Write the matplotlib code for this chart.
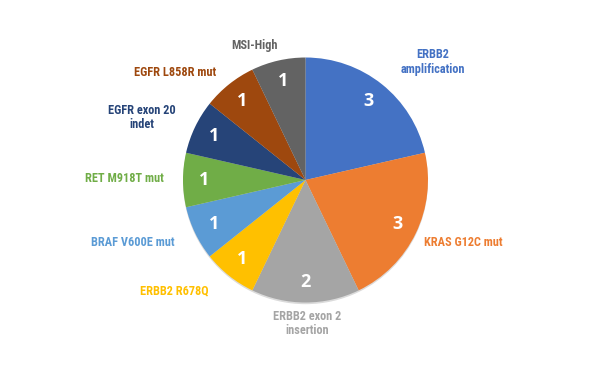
import matplotlib
matplotlib.use("Agg")
import matplotlib.pyplot as plt
from matplotlib import font_manager
from matplotlib.font_manager import FontProperties
import os

categories = ["ERBB2\namplification", "KRAS G12C mut", "ERBB2 exon 2\ninsertion",
              "ERBB2 R678Q", "BRAF V600E mut", "RET M918T mut",
              "EGFR exon 20\nindet", "EGFR L858R mut", "MSI-High"]
values = [3, 3, 2, 1, 1, 1, 1, 1, 1]
colors = ["#4472C4", "#ED7D31", "#A5A5A5", "#FFC000", "#5B9BD5",
          "#70AD47", "#264478", "#9E480E", "#636363"]

# label centre positions in pixels (x, y from top)
label_pos = [(433, 62), (463, 242), (307, 323), (174, 291), (133, 242),
             (124, 179), (142, 117), (175, 72), (255, 46)]

# choose a condensed bold font
files = {os.path.basename(f.fname): f.fname for f in font_manager.fontManager.ttflist}
prefs = ["RobotoCondensed-Bold.ttf", "AsapCondensed-Bold.ttf", "AsapCondensed-SemiBold.ttf",
         "BarlowCondensed-SemiBold.ttf", "BarlowCondensed-Bold.ttf",
         "DejaVuSansCondensed-Bold.ttf"]
lab_file = next((files[p] for p in prefs if p in files), None)

def lab_props(size):
    if lab_file:
        return FontProperties(fname=lab_file, size=size)
    return FontProperties(family="Roboto", weight="bold", size=size)

W, H = 600, 365
fig = plt.figure(figsize=(6, 3.65), dpi=100)
cx, cy, R = 305.5, 180, 122.5
ax = fig.add_axes([(cx - R) / W, (H - cy - R) / H, 2 * R / W, 2 * R / H])

wedges, texts = ax.pie(values, colors=colors, startangle=90, counterclock=False,
                       radius=1, labels=[str(v) for v in values], labeldistance=0.83,
                       shadow=dict(ox=0.0, oy=-0.01, shade=0.9, alpha=0.15),
                       wedgeprops=dict(linewidth=0),
                       textprops=dict(color="white", fontsize=13, fontweight="bold",
                                      family="Open Sans", ha="center", va="center"))
ax.set_xlim(-1, 1)
ax.set_ylim(-1, 1)
ax.axis("off")

# size labels so that "KRAS G12C mut" is ~78 px wide as in the reference
probe = fig.text(0, 0, "KRAS G12C mut", fontproperties=lab_props(10))
fig.canvas.draw()
wpx = probe.get_window_extent().width
probe.remove()
size = min(11, max(7, 10 * 78 / wpx))

for lab, col, (px, py) in zip(categories, colors, label_pos):
    fig.text(px / W, 1 - py / H, lab, color=col, fontproperties=lab_props(size),
             ha="center", va="center", linespacing=1.1)

fig.savefig("out.png", dpi=100, facecolor="white")
